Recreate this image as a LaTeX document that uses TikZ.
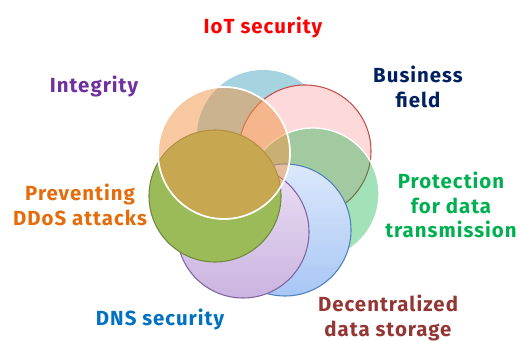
\documentclass[tikz,border=0pt]{standalone}
\usepackage{fontspec}
\setmainfont{Fira Sans}[LetterSpace=5]
\usetikzlibrary{shadings}

\definecolor{iotblue}{HTML}{A5D3DF}
\definecolor{bizpink}{HTML}{FDD9D9}
\definecolor{bizedge}{HTML}{C0504D}
\definecolor{protgreen}{HTML}{00B03C}
\definecolor{storetop}{HTML}{DCE8FB}
\definecolor{storebot}{HTML}{A8C7F5}
\definecolor{storeedge}{HTML}{4F81BD}
\definecolor{dnstop}{HTML}{EADFF3}
\definecolor{dnsbot}{HTML}{CBB4E1}
\definecolor{dnsedge}{HTML}{8064A2}
\definecolor{ddosfill}{HTML}{9BBB59}
\definecolor{ddosedge}{HTML}{71893F}
\definecolor{integfill}{HTML}{F19748}

\definecolor{tIoT}{HTML}{FF0000}
\definecolor{tInteg}{HTML}{7030A0}
\definecolor{tBiz}{HTML}{002060}
\definecolor{tDDoS}{HTML}{E46C0A}
\definecolor{tProt}{HTML}{00B050}
\definecolor{tDNS}{HTML}{0070C0}
\definecolor{tStore}{HTML}{943634}

\tikzset{
  label/.style={align=center, inner sep=0pt,
    font=\fontsize{15.3}{18.3}\selectfont\bfseries},
}

\begin{document}
\begin{tikzpicture}[x=0.75pt,y=-0.75pt]
  \useasboundingbox (0,0) rectangle (520,341);
  \def\rr{66}

  % named centres of the seven discs
  \coordinate (cIoT) at (263,136);
  \coordinate (cBiz) at (305,151);
  \coordinate (cProt) at (313,194);
  \coordinate (cStore) at (285,230);
  \coordinate (cDNS) at (243,232);
  \coordinate (cDDoS) at (215,196);
  \coordinate (cInteg) at (224,153);

  % discs, bottom to top
  \fill[iotblue] (cIoT) circle (\rr);
  \path[fill=bizpink, draw=bizedge, line width=0.8pt] (cBiz) circle (\rr);
  \path[fill=protgreen, fill opacity=0.36, draw=white, line width=1pt] (cProt) circle (\rr);
  \path[top color=storetop, bottom color=storebot, draw=storeedge, line width=0.8pt] (cStore) circle (\rr);
  \path[top color=dnstop, bottom color=dnsbot, draw=dnsedge, line width=0.8pt] (cDNS) circle (\rr);
  \path[fill=ddosfill, draw=ddosedge, line width=0.8pt] (cDDoS) circle (\rr);
  \path[fill=integfill, fill opacity=0.52, draw=white, line width=1.3pt] (cInteg) circle (\rr);

  % labels
  \node[label, text=tIoT] (lIoT) at (263,27) {IoT security};
  \node[label, text=tInteg] (lInteg) at (94,86) {Integrity};
  \node[label, text=tBiz] (lBiz) at (418,87) {Business\\field};
  \node[label, text=tDDoS] (lDDoS) at (80,205) {Preventing\\DDoS attacks};
  \node[label, text=tProt] (lProt) at (451,205) {Protection\\for data\\transmission};
  \node[label, text=tDNS] (lDNS) at (160,319) {DNS security};
  \node[label, text=tStore] (lStore) at (388,318) {Decentralized\\data storage};
\end{tikzpicture}
\end{document}
